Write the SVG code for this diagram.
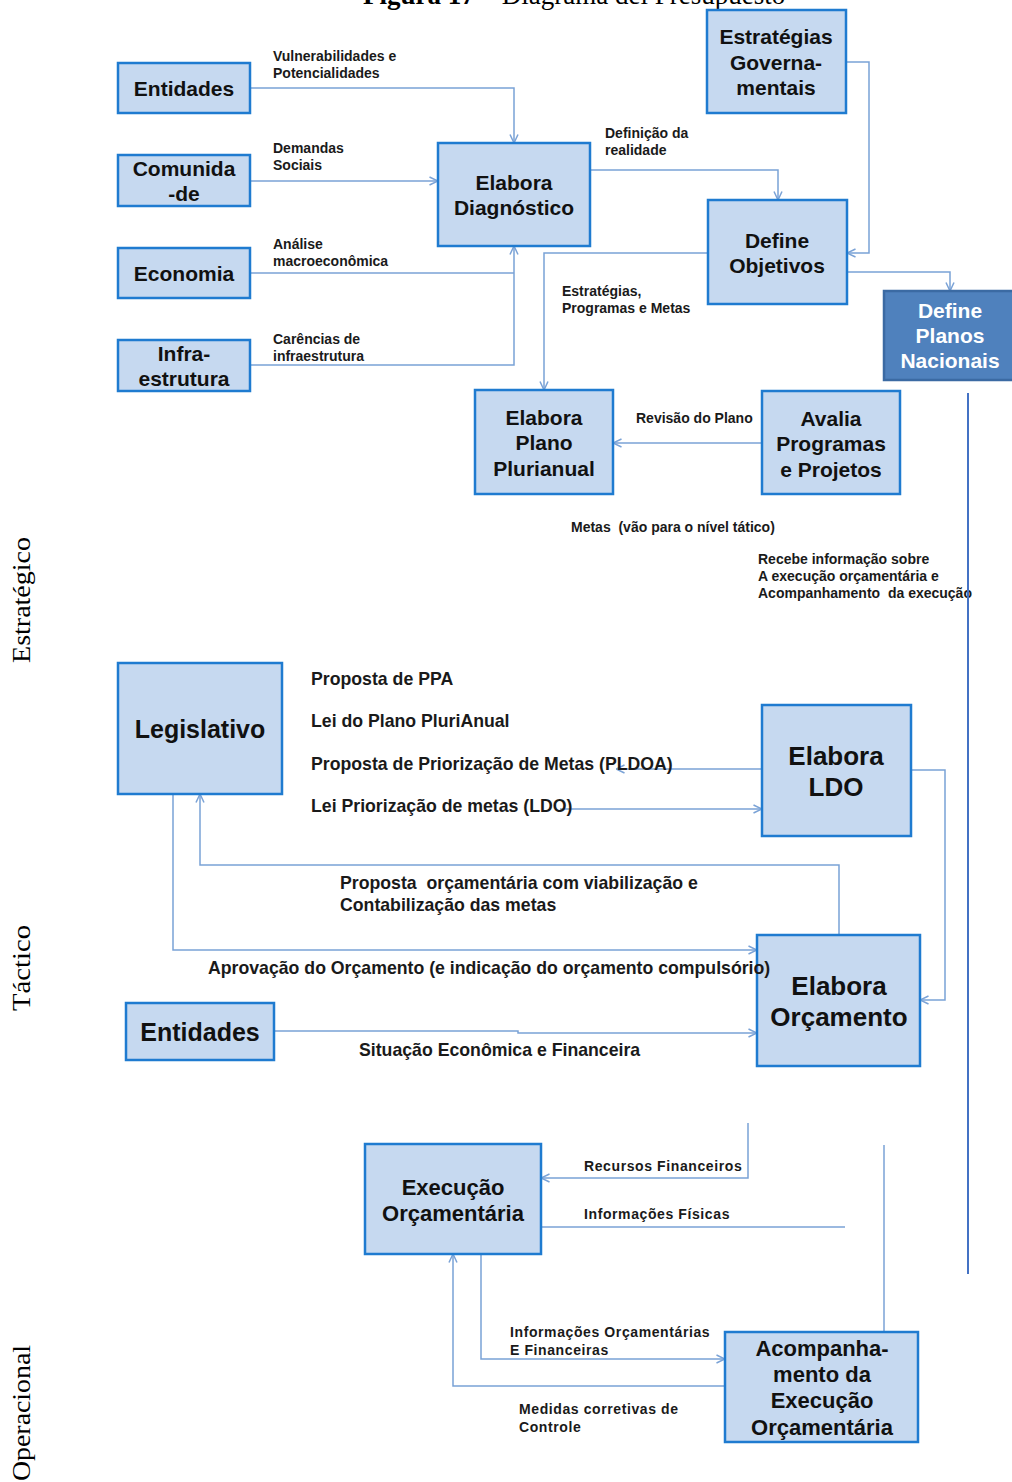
<svg xmlns="http://www.w3.org/2000/svg" width="1012" height="1482" viewBox="0 0 1012 1482">
  <style>
    .box { fill: #c6d9f0; stroke: #1f7bd0; stroke-width: 2.5; }
    .boxdark { fill: #4f81bd; stroke: #3b6aa3; stroke-width: 2.5; }
    .nt { font-family: "Liberation Sans", Arial, sans-serif; font-weight: bold; fill: #111; text-anchor: middle; }
    .ntw { font-family: "Liberation Sans", Arial, sans-serif; font-weight: bold; fill: #fff; text-anchor: middle; }
    .lbl { font-family: "Liberation Sans", Arial, sans-serif; font-weight: bold; fill: #1a1a1a; font-size: 14px; }
    .lbl3 { font-family: "Liberation Sans", Arial, sans-serif; font-weight: bold; fill: #1a1a1a; font-size: 14px; letter-spacing: 0.6px; }
    .lbl2 { font-family: "Liberation Sans", Arial, sans-serif; font-weight: bold; fill: #1a1a1a; font-size: 17.7px; }
    .side { font-family: "Liberation Serif", "Times New Roman", serif; fill: #000; font-size: 26px; text-anchor: middle; }
    .title { font-family: "Liberation Serif", "Times New Roman", serif; fill: #000; font-size: 27px; }
    .con { fill: none; stroke: #7aa2d6; stroke-width: 1.5; }
    .conA { fill: none; stroke: #7aa2d6; stroke-width: 1.5; marker-end: url(#arr); }
  </style>
  <defs>
    <marker id="arr" viewBox="0 0 10 10" refX="9.5" refY="5" markerWidth="10" markerHeight="10" markerUnits="userSpaceOnUse" orient="auto">
      <path d="M1,1 L9.5,5 L1,9" fill="none" stroke="#7aa2d6" stroke-width="1.5"/>
    </marker>
  </defs>

  <rect width="1012" height="1482" fill="#fff"/>

  <!-- figure title (clipped by the top edge) -->
  <text class="title" x="363" y="4"><tspan font-weight="bold">Figura 17</tspan> – Diagrama del Presupuesto</text>

  <!-- level labels -->
  <text class="side" transform="translate(30,600) rotate(-90)" textLength="126" lengthAdjust="spacingAndGlyphs">Estratégico</text>
  <text class="side" transform="translate(30,968) rotate(-90)" textLength="86" lengthAdjust="spacingAndGlyphs">Táctico</text>
  <text class="side" transform="translate(30,1413) rotate(-90)" textLength="136" lengthAdjust="spacingAndGlyphs">Operacional</text>

  <!-- connectors -->
  <g id="connectors">
    <polyline class="conA" points="250,88 514,88 514,143"/>
    <polyline class="conA" points="250,181 438,181"/>
    <polyline class="con" points="250,273 514,273"/>
    <polyline class="conA" points="250,365 514,365 514,246"/>
    <polyline class="conA" points="590,170 778,170 778,200"/>
    <polyline class="conA" points="846,62 869,62 869,253 847,253"/>
    <polyline class="conA" points="708,253 544,253 544,390"/>
    <polyline class="conA" points="847,272 950,272 950,291"/>
    <polyline class="conA" points="762,443 613,443"/>

    <polyline class="conA" points="762,769 616,769"/>
    <polyline class="conA" points="560,809 762,809"/>
    <polyline class="conA" points="911,770 945,770 945,1000 920,1000"/>
    <polyline class="conA" points="839,935 839,865 200,865 200,794"/>
    <polyline class="conA" points="173,794 173,950 757,950"/>
    <polyline class="conA" points="274,1031 518,1031 518,1033 757,1033"/>

    <polyline class="conA" points="748,1123 748,1178 541,1178"/>
    <polyline class="con" points="541,1227 845,1227"/>
    <polyline class="con" points="884,1145 884,1332"/>
    <polyline class="conA" points="481,1254 481,1359 725,1359"/>
    <polyline class="conA" points="725,1386 453,1386 453,1254"/>
  </g>

  <!-- nodes -->
  <g id="n-entidades">
    <rect class="box" x="118" y="63" width="132" height="50"/>
    <text class="nt" x="184" y="96" font-size="21">Entidades</text>
  </g>
  <g id="n-comunidade">
    <rect class="box" x="118" y="155" width="132" height="51"/>
    <text class="nt" x="184" y="176" font-size="21">Comunida</text>
    <text class="nt" x="184" y="201" font-size="21">-de</text>
  </g>
  <g id="n-economia">
    <rect class="box" x="118" y="248" width="132" height="50"/>
    <text class="nt" x="184" y="281" font-size="21">Economia</text>
  </g>
  <g id="n-infra">
    <rect class="box" x="118" y="340" width="132" height="51"/>
    <text class="nt" x="184" y="361" font-size="21">Infra-</text>
    <text class="nt" x="184" y="386" font-size="21">estrutura</text>
  </g>
  <g id="n-diagnostico">
    <rect class="box" x="438" y="143" width="152" height="103"/>
    <text class="nt" x="514" y="190" font-size="21">Elabora</text>
    <text class="nt" x="514" y="215" font-size="21">Diagnóstico</text>
  </g>
  <g id="n-estrategias">
    <rect class="box" x="707" y="10" width="139" height="103"/>
    <text class="nt" x="776" y="44" font-size="21">Estratégias</text>
    <text class="nt" x="776" y="70" font-size="21">Governa-</text>
    <text class="nt" x="776" y="95" font-size="21">mentais</text>
  </g>
  <g id="n-objetivos">
    <rect class="box" x="708" y="200" width="139" height="104"/>
    <text class="nt" x="777" y="248" font-size="21">Define</text>
    <text class="nt" x="777" y="273" font-size="21">Objetivos</text>
  </g>
  <g id="n-planos">
    <rect class="boxdark" x="884" y="291" width="132" height="89"/>
    <text class="ntw" x="950" y="318" font-size="21">Define</text>
    <text class="ntw" x="950" y="343" font-size="21">Planos</text>
    <text class="ntw" x="950" y="368" font-size="21">Nacionais</text>
  </g>
  <g id="n-ppa">
    <rect class="box" x="475" y="390" width="138" height="104"/>
    <text class="nt" x="544" y="425" font-size="21">Elabora</text>
    <text class="nt" x="544" y="450" font-size="21">Plano</text>
    <text class="nt" x="544" y="476" font-size="21">Plurianual</text>
  </g>
  <g id="n-avalia">
    <rect class="box" x="762" y="391" width="138" height="103"/>
    <text class="nt" x="831" y="426" font-size="21">Avalia</text>
    <text class="nt" x="831" y="451" font-size="21">Programas</text>
    <text class="nt" x="831" y="477" font-size="21">e Projetos</text>
  </g>
  <g id="n-legislativo">
    <rect class="box" x="118" y="663" width="164" height="131"/>
    <text class="nt" x="200" y="738" font-size="25">Legislativo</text>
  </g>
  <g id="n-ldo">
    <rect class="box" x="762" y="705" width="149" height="131"/>
    <text class="nt" x="836" y="765" font-size="26">Elabora</text>
    <text class="nt" x="836" y="796" font-size="26">LDO</text>
  </g>
  <g id="n-orcamento">
    <rect class="box" x="757" y="935" width="163" height="131"/>
    <text class="nt" x="839" y="995" font-size="26">Elabora</text>
    <text class="nt" x="839" y="1026" font-size="26">Orçamento</text>
  </g>
  <g id="n-entidades2">
    <rect class="box" x="126" y="1003" width="148" height="57"/>
    <text class="nt" x="200" y="1041" font-size="25">Entidades</text>
  </g>
  <g id="n-execucao">
    <rect class="box" x="365" y="1144" width="176" height="110"/>
    <text class="nt" x="453" y="1195" font-size="22">Execução</text>
    <text class="nt" x="453" y="1221" font-size="22">Orçamentária</text>
  </g>
  <g id="n-acompanhamento">
    <rect class="box" x="725" y="1332" width="193" height="110"/>
    <text class="nt" x="822" y="1356" font-size="22">Acompanha-</text>
    <text class="nt" x="822" y="1382" font-size="22">mento da</text>
    <text class="nt" x="822" y="1408" font-size="22">Execução</text>
    <text class="nt" x="822" y="1435" font-size="22">Orçamentária</text>
  </g>

  <!-- connector labels, drawn above the boxes they run into -->
  <g id="labels">
    <text class="lbl" x="273" y="61">Vulnerabilidades e</text>
    <text class="lbl" x="273" y="78">Potencialidades</text>
    <text class="lbl" x="273" y="153">Demandas</text>
    <text class="lbl" x="273" y="170">Sociais</text>
    <text class="lbl" x="273" y="249">Análise</text>
    <text class="lbl" x="273" y="266">macroeconômica</text>
    <text class="lbl" x="273" y="344">Carências de</text>
    <text class="lbl" x="273" y="361">infraestrutura</text>
    <text class="lbl" x="605" y="138">Definição da</text>
    <text class="lbl" x="605" y="155">realidade</text>
    <text class="lbl" x="562" y="296">Estratégias,</text>
    <text class="lbl" x="562" y="313">Programas e Metas</text>
    <text class="lbl" x="636" y="423">Revisão do Plano</text>
    <text class="lbl" x="571" y="532" xml:space="preserve">Metas  (vão para o nível tático)</text>
    <text class="lbl" x="758" y="564">Recebe informação sobre</text>
    <text class="lbl" x="758" y="581">A execução orçamentária e</text>
    <text class="lbl" x="758" y="598" xml:space="preserve">Acompanhamento  da execução</text>

    <text class="lbl2" x="311" y="685">Proposta de PPA</text>
    <text class="lbl2" x="311" y="727">Lei do Plano PluriAnual</text>
    <text class="lbl2" x="311" y="770">Proposta de Priorização de Metas (PLDOA)</text>
    <text class="lbl2" x="311" y="812">Lei Priorização de metas (LDO)</text>
    <text class="lbl2" x="340" y="889" xml:space="preserve">Proposta  orçamentária com viabilização e</text>
    <text class="lbl2" x="340" y="911">Contabilização das metas</text>
    <text class="lbl2" x="208" y="974">Aprovação do Orçamento (e indicação do orçamento compulsório)</text>
    <text class="lbl2" x="359" y="1056">Situação Econômica e Financeira</text>

    <text class="lbl3" x="584" y="1171">Recursos Financeiros</text>
    <text class="lbl3" x="584" y="1219">Informações Físicas</text>
    <text class="lbl3" x="510" y="1337">Informações Orçamentárias</text>
    <text class="lbl3" x="510" y="1355">E Financeiras</text>
    <text class="lbl3" x="519" y="1414">Medidas corretivas de</text>
    <text class="lbl3" x="519" y="1432">Controle</text>
  </g>

  <!-- long vertical rule on the right -->
  <line x1="968" y1="393" x2="968" y2="1274" stroke="#4472c4" stroke-width="2"/>
</svg>
